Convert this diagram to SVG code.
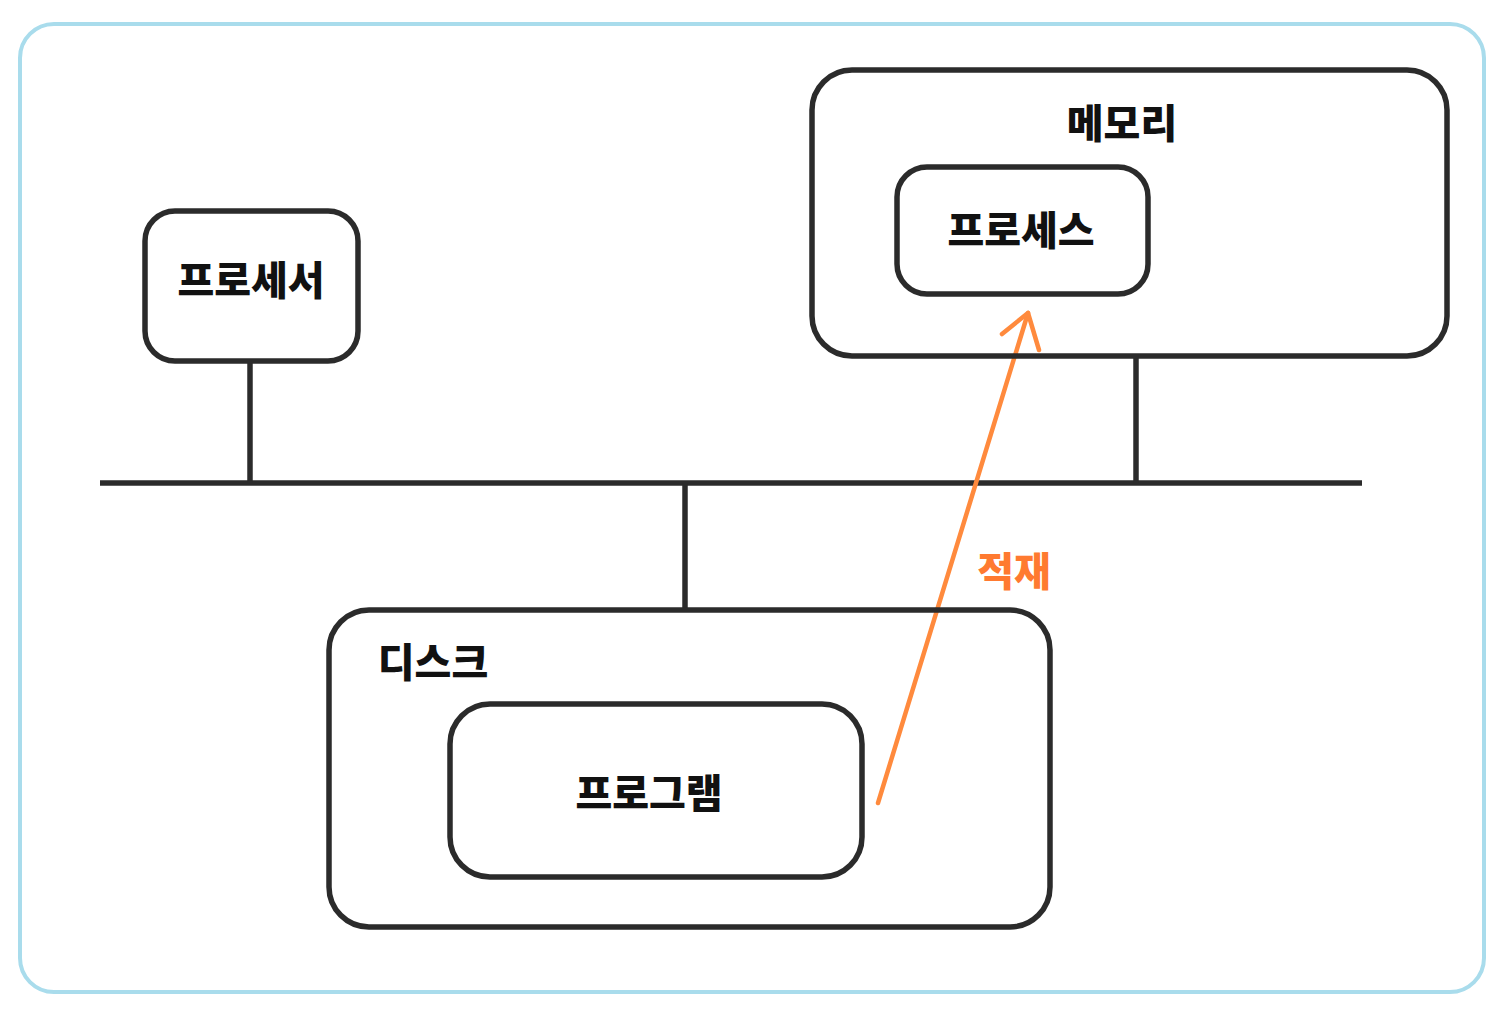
<svg xmlns="http://www.w3.org/2000/svg" width="1504" height="1012" viewBox="0 0 1504 1012">
<style>
.box{fill:none;stroke:#2b2b2b;stroke-width:5.5}
.ln{stroke:#2b2b2b;stroke-width:5.5;fill:none}
.lbl{font-family:"Noto Sans CJK KR","Noto Sans",sans-serif;font-weight:900;font-size:40px;fill:#111;text-anchor:middle;dominant-baseline:central}
.orange{stroke:#ff8a3d;stroke-width:4.5;fill:none;stroke-linecap:round;stroke-linejoin:round}
</style>
<rect x="0" y="0" width="1504" height="1012" fill="#ffffff"/>
<rect id="frame" x="20" y="24" width="1464" height="968" rx="34" fill="none" stroke="#a9dcec" stroke-width="4"/>
<g id="connectors">
<line class="ln" x1="100" y1="483" x2="1362" y2="483"/>
<line class="ln" x1="250" y1="361" x2="250" y2="483"/>
<line class="ln" x1="1136" y1="356" x2="1136" y2="483"/>
<line class="ln" x1="685" y1="483" x2="685" y2="610"/>
<g id="load-arrow">
<path class="orange" d="M878 803 L1028 313"/>
<path class="orange" d="M1002 334 L1028 313 L1039 350"/>
<text class="lbl" x="1014" y="569" style="fill:#ff7a30">적재</text>
</g>
</g>
<g id="processor">
<rect class="box" x="145" y="211" width="213" height="150" rx="30"/>
<text class="lbl" x="251" y="278">프로세서</text>
</g>
<g id="memory">
<rect class="box" x="812" y="70" width="635" height="286" rx="40"/>
<text class="lbl" x="1122" y="121">메모리</text>
</g>
<g id="process">
<rect class="box" x="897" y="167" width="251" height="127" rx="30"/>
<text class="lbl" x="1021" y="228">프로세스</text>
</g>
<g id="disk">
<rect class="box" x="329" y="610" width="721" height="317" rx="40"/>
<text class="lbl" x="433" y="660">디스크</text>
</g>
<g id="program">
<rect class="box" x="450" y="704" width="412" height="173" rx="40"/>
<text class="lbl" x="649" y="791">프로그램</text>
</g>
</svg>
